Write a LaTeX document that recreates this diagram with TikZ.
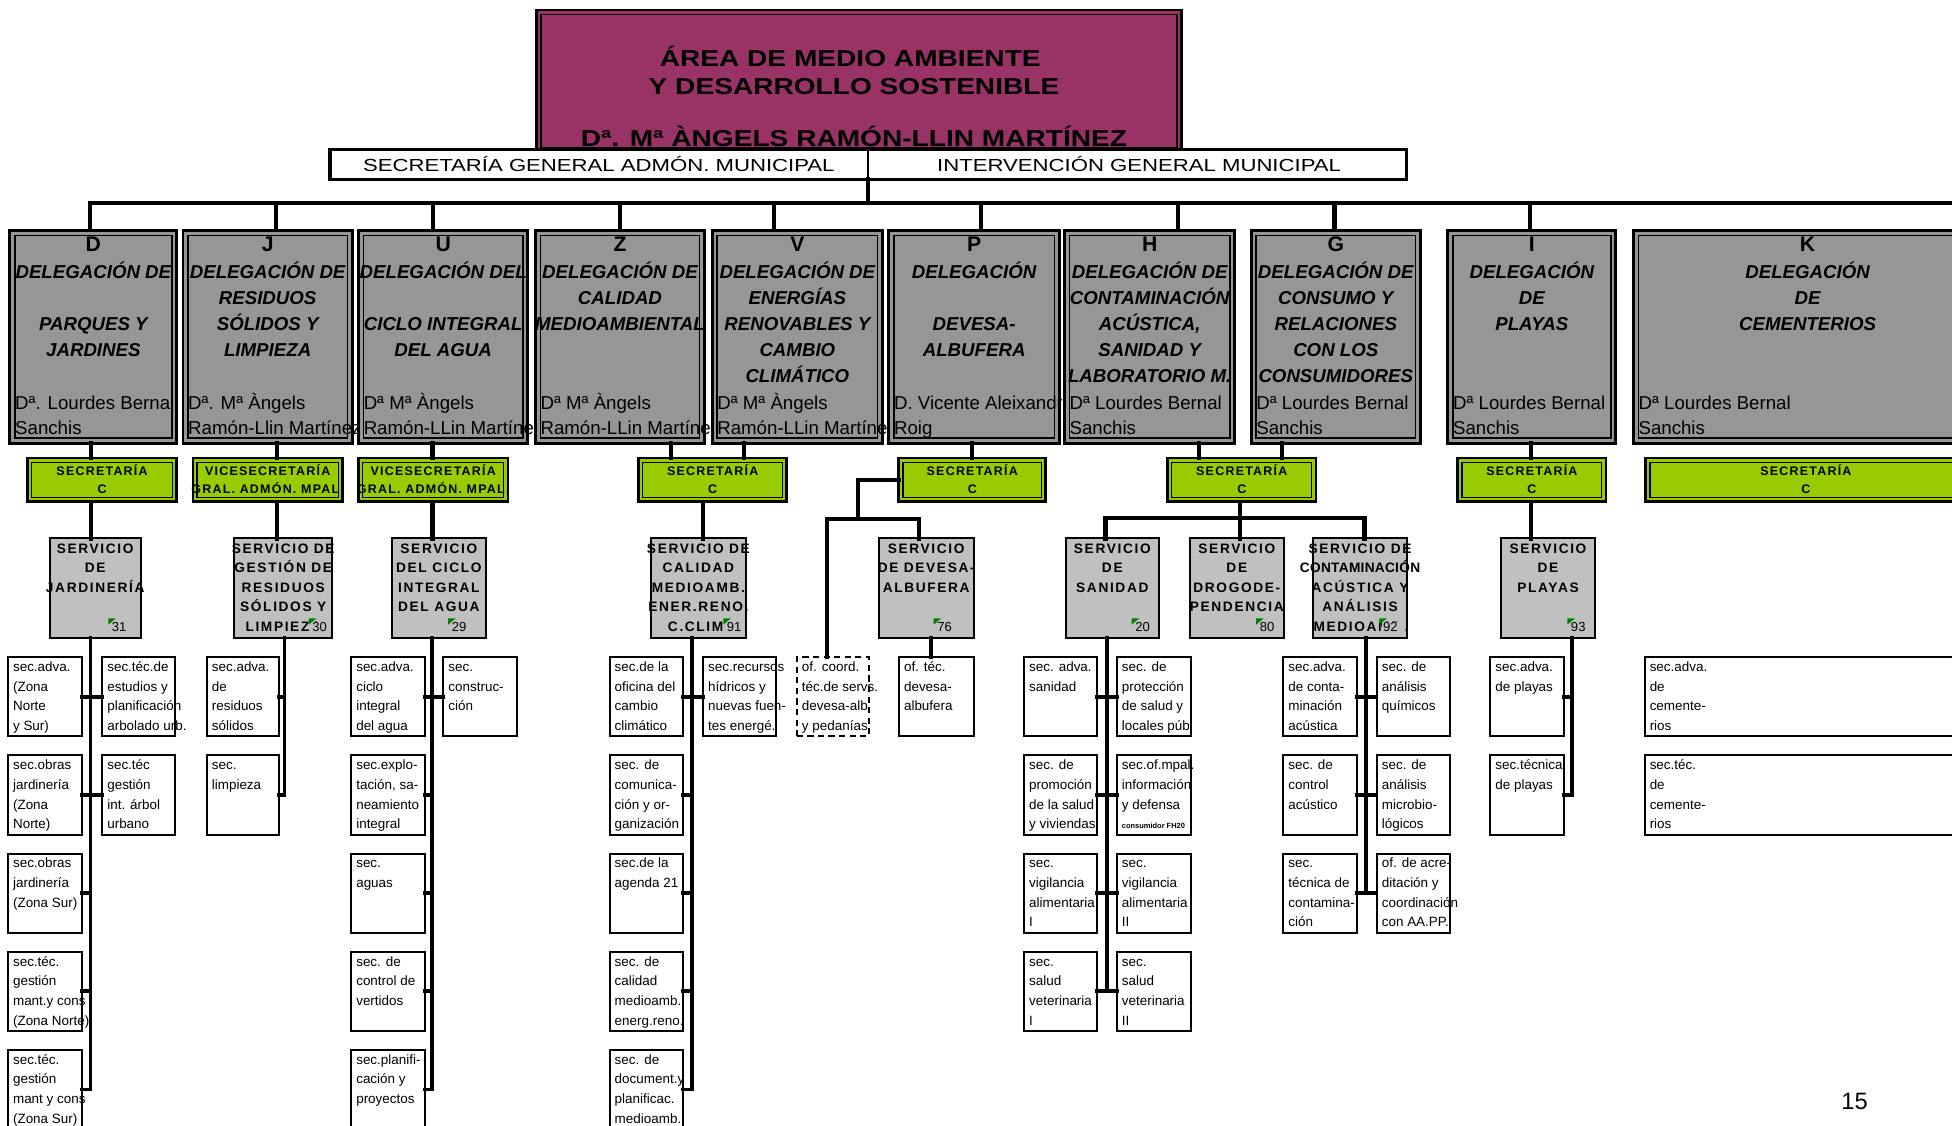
\documentclass[tikz,border=0pt]{standalone}
\usepackage{fontspec}
\setmainfont{Liberation Sans}
\newfontfamily\fTitle[FakeStretch=1.22]{Liberation Sans}
\newfontfamily\fSecG[FakeStretch=1.27]{Liberation Sans}
\newfontfamily\fSp[LetterSpace=12]{Liberation Sans}
\newfontfamily\fSpG[LetterSpace=10]{Liberation Sans}
\newfontfamily\fSpN[LetterSpace=2]{Liberation Sans}
\definecolor{magen}{HTML}{993366}
\definecolor{delgray}{HTML}{969696}
\definecolor{sergray}{HTML}{C0C0C0}
\definecolor{secgreen}{HTML}{99CC00}
\definecolor{tri}{HTML}{008000}
\tikzset{
  conn/.style={line width=3.4pt, line cap=rect},
  sconn/.style={line width=3pt, line cap=rect},
  basebox/.style={draw, anchor=north west, inner sep=0pt, outer sep=0pt},
  titlebox/.style={basebox, line width=2pt, fill=magen},
  secbox/.style={basebox, line width=2.8pt, fill=white},
  delbox/.style={basebox, line width=2.4pt, fill=delgray},
  greenbox/.style={basebox, line width=2.2pt, fill=secgreen},
  servbox/.style={basebox, line width=1.6pt, fill=sergray},
  botbox/.style={basebox, line width=1.6pt, fill=white},
  dashbox/.style={botbox, dash pattern=on 5pt off 3.5pt},
  fTitleS/.style={font=\fTitle\bfseries\fontsize{18.5}{20}\selectfont, anchor=base, inner sep=0pt},
  fSecS/.style={font=\fSecG\fontsize{14}{16}\selectfont, anchor=base, inner sep=0pt},
  fDel/.style={font=\fontsize{15}{18}\selectfont\bfseries\itshape},
  fLetter/.style={font=\fontsize{17}{20}\selectfont\bfseries, anchor=base, inner sep=0pt},
  fName/.style={font=\fontsize{15}{18}\selectfont},
  fServ/.style={font=\fSp\fontsize{11}{12}\selectfont\bfseries},
  fGreen/.style={font=\fSpG\fontsize{10}{11}\selectfont\bfseries},
  fBot/.style={font=\fontsize{10.8}{12}\selectfont},
  fNum/.style={font=\fontsize{10.5}{12}\selectfont},
}
% lines of text: [style]{prefix}{x}{first baseline}{step}{list}
\newcommand\tlines[6][]{%
  \foreach \lineT [count=\i] in {#6}{%
    \node[inner sep=0pt, anchor=base, #1] (#2-\i) at ({#3},{#4+(\i-1)*#5}) {\lineT};}}
% inner line of a double border
\newcommand\dbl[3]{\draw[line width=#3pt] ([shift={(#2pt,-#2pt)}]#1.north west) rectangle ([shift={(-#2pt,#2pt)}]#1.south east);}
% delegation box: name, x1, x2, cx, letter, titles, names
\newcommand\dele[7]{%
  \node[delbox, minimum width={#3-#2}, minimum height=171] (#1) at (#2,185) {};
  \dbl{#1}{4}{1.2}
  \node[fLetter] (#1-l) at (#4,202) {#5};
  \tlines[fDel]{#1-t}{#4}{223.5}{21}{#6}
  \tlines[fName, anchor=base west]{#1-n}{#2+4}{329}{20}{#7}}
% green box: name, x1, x2, cx, lines
\newcommand\grn[5]{%
  \node[greenbox, minimum width={#3-#2}, minimum height=35] (#1) at (#2,368) {};
  \dbl{#1}{3.3}{1}
  \tlines[fGreen]{#1-t}{#4}{381.8}{14.7}{#5}}
% service box: name, x1, x2, lines, number, number right edge
\newcommand\serv[6]{%
  \node[servbox, minimum width={#3-#2}, minimum height=80] (#1) at (#2,432.5) {};
  \tlines[fServ]{#1-t}{(#2+#3)/2}{444.5}{15.7}{#4}
  \node[fNum, anchor=base east, fill=sergray, inner ysep=0.6pt, inner xsep=1.2pt] (#1-num) at (#6,507.4) {#5};
  \fill[sergray] (#1-num.north east) rectangle ([xshift=-1.3pt]#1-num.south -| #1.east);
  \fill[tri] ([shift={(-1.5pt,2.5pt)}]#1-num.north west) -- ++(6pt,0pt) -- ++(-6pt,-5pt) -- cycle;}
% bottom box: [style]{name}{x1}{x2}{row}{lines}
\newcommand\botb[6][botbox]{%
  \pgfmathsetmacro\btop{528+78.85*(#5-1)}
  \node[#1, minimum width={#4-#3}, minimum height=63.5] (#2) at (#3,\btop) {};
  \pgfmathsetmacro\bbase{\btop+11.5}
  \tlines[fBot, anchor=base west]{#2-t}{#3+4}{\bbase}{15.8}{#6}}

\begin{document}
\begin{tikzpicture}[x=1pt,y=-1pt]
\useasboundingbox (0,0) rectangle (1568,903.7);

% ---------- title ----------
\node[titlebox, minimum width=518pt, minimum height=114pt] (T) at (431,8) {};
\dbl{T}{3.5}{1}
\node[fTitleS] (T1) at (683,53.5) {ÁREA DE MEDIO AMBIENTE};
\node[fTitleS] (T2) at (686,75.8) {Y DESARROLLO SOSTENIBLE};
\node[fTitleS] (T3) at (686,117.8) {Dª. Mª ÀNGELS RAMÓN-LLIN MARTÍNEZ};

\node[secbox, minimum width=865pt, minimum height=24pt] (S) at (265,120) {};
\coordinate (cM) at (697,163);
\draw[line width=1.6pt] (S.north -| cM) -- (S.south -| cM);
\node[fSecS] (S1) at (481,137.9) {SECRETARÍA GENERAL ADMÓN. MUNICIPAL};
\node[fSecS] (S2) at (915,137.9) {INTERVENCIÓN GENERAL MUNICIPAL};

% ---------- delegations ----------
\dele{Ddel}{8}{142}{75}{D}{DELEGACIÓN DE,{},PARQUES Y,JARDINES}{Dª. Lourdes Bernal,Sanchis}
\dele{Jdel}{147}{283}{215}{J}{DELEGACIÓN DE,RESIDUOS,SÓLIDOS Y,LIMPIEZA}{Dª. Mª Àngels,Ramón-Llin Martínez}
\dele{Udel}{288}{424}{356}{U}{DELEGACIÓN DEL,{},CICLO INTEGRAL,DEL AGUA}{Dª Mª Àngels,Ramón-LLin Martínez}
\dele{Zdel}{430}{566}{498}{Z}{DELEGACIÓN DE,CALIDAD,MEDIOAMBIENTAL}{Dª Mª Àngels,Ramón-LLin Martínez}
\dele{Vdel}{572}{709}{640.5}{V}{DELEGACIÓN DE,ENERGÍAS,RENOVABLES Y,CAMBIO,CLIMÁTICO}{Dª Mª Àngels,Ramón-LLin Martínez}
\dele{Pdel}{714}{851}{782.5}{P}{DELEGACIÓN,{},DEVESA-,ALBUFERA}{{},Roig}
\begin{scope}
\clip (714,185) rectangle (853,356);
\node[fName, anchor=base west, inner sep=0pt] (Pname) at (718,329) {D. Vicente Aleixandre};
\end{scope}
\dele{Hdel}{855}{992}{923.5}{H}{DELEGACIÓN DE,CONTAMINACIÓN,{ACÚSTICA,},SANIDAD Y,LABORATORIO M.}{Dª Lourdes Bernal,Sanchis}
\dele{Gdel}{1005}{1141}{1073}{G}{DELEGACIÓN DE,CONSUMO Y,RELACIONES,CON LOS,CONSUMIDORES}{Dª Lourdes Bernal,Sanchis}
\dele{Idel}{1163}{1298}{1230.5}{I}{DELEGACIÓN,DE,PLAYAS}{Dª Lourdes Bernal,Sanchis}
\dele{Kdel}{1312}{1592}{1452}{K}{DELEGACIÓN,DE,CEMENTERIOS}{Dª Lourdes Bernal,Sanchis}

% ---------- secretarías ----------
\grn{GD}{22}{142}{82}{SECRETARÍA,C}
\grn{GJ}{155}{275}{215}{VICESECRETARÍA,GRAL. ADMÓN. MPAL.}
\grn{GU}{288}{408}{348}{VICESECRETARÍA,GRAL. ADMÓN. MPAL.}
\grn{GZ}{513}{632}{572.5}{SECRETARÍA,C}
\grn{GP}{722}{840}{781}{SECRETARÍA,C}
\grn{GH}{938}{1057}{997.5}{SECRETARÍA,C}
\grn{GI}{1171}{1290}{1230.5}{SECRETARÍA,C}
\grn{GK}{1322}{1579}{1450.6}{SECRETARÍA,C}

% ---------- servicios ----------
\serv{SD}{40}{113}{SERVICIO,DE,JARDINERÍA}{31}{103}
\serv{SJ}{188}{267}{SERVICIO DE,GESTIÓN DE,RESIDUOS,SÓLIDOS Y,LIMPIEZA}{30}{264}
\serv{SU}{315}{390}{SERVICIO,DEL CICLO,INTEGRAL,DEL AGUA}{29}{376}
\serv{SZ}{523}{599}{SERVICIO DE,CALIDAD,MEDIOAMB.,ENER.RENO.,C.CLIM.}{91}{597}
\serv{SP}{706}{782}{SERVICIO,DE DEVESA-,ALBUFERA}{76}{766}
\serv{SH1}{856}{931}{SERVICIO,DE,SANIDAD}{20}{925}
\serv{SH2}{956}{1031}{SERVICIO,DE,DROGODE-,PENDENCIA}{80}{1025}
\serv{SH3}{1055}{1130}{SERVICIO DE,{\fSpN CONTAMINACIÓN},ACÚSTICA Y,ANÁLISIS,MEDIOAMB.}{92}{1124}
\serv{SI}{1206}{1281}{SERVICIO,DE,PLAYAS}{93}{1275}

% ---------- secciones ----------
\botb{bD1}{6.3}{66}{1}{sec.adva.,{(Zona},Norte,{y Sur)}}
\botb{bD2}{6.3}{66}{2}{sec.obras,jardinería,{(Zona},{Norte)}}
\botb{bD3}{6.3}{66}{3}{sec.obras,jardinería,{(Zona Sur)}}
\botb{bD4}{6.3}{66}{4}{sec.téc.,gestión,mant.y cons,{(Zona Norte)}}
\botb{bD5}{6.3}{66}{5}{sec.téc.,gestión,mant y cons,{(Zona Sur)}}
\botb{bD6}{82}{140.6}{1}{sec.téc.de,estudios y,planificación,arbolado urb.}
\botb{bD7}{82}{140.6}{2}{sec.téc,gestión,int. árbol,urbano}
\botb{bJ1}{166}{224}{1}{sec.adva.,de,residuos,sólidos}
\botb{bJ2}{166}{224}{2}{sec.,limpieza}
\botb{bU1}{282}{341}{1}{sec.adva.,ciclo,integral,del agua}
\botb{bU2}{282}{341}{2}{sec.explo-,{tación, sa-},neamiento,integral}
\botb{bU3}{282}{341}{3}{sec.,aguas}
\botb{bU4}{282}{341}{4}{sec. de,control de,vertidos}
\botb{bU5}{282}{341}{5}{sec.planifi-,cación y,proyectos}
\botb{bU6}{356}{415}{1}{sec.,construc-,ción}
\botb{bZ1}{489.6}{548.6}{1}{sec.de la,oficina del,cambio,climático}
\botb{bZ2}{489.6}{548.6}{2}{sec. de,comunica-,ción y or-,ganización}
\botb{bZ3}{489.6}{548.6}{3}{sec.de la,agenda 21}
\botb{bZ4}{489.6}{548.6}{4}{sec. de,calidad,medioamb.,energ.reno.}
\botb{bZ5}{489.6}{548.6}{5}{sec. de,document.y,planificac.,medioamb.}
\botb{bZ6}{564.7}{623.6}{1}{sec.recursos,hídricos y,nuevas fuen-,tes energé.}
\botb[dashbox]{DashB}{640}{698}{1}{of. coord.,téc.de servs.,devesa-alb.,y pedanías}
\botb{OT}{722}{782}{1}{of. téc.,devesa-,albufera}
\botb{bH1}{822.5}{881}{1}{sec. adva.,sanidad}
\botb{bH2}{822.5}{881}{2}{sec. de,promoción,de la salud,y viviendas}
\botb{bH3}{822.5}{881}{3}{sec.,vigilancia,alimentaria,I}
\botb{bH4}{822.5}{881}{4}{sec.,salud,veterinaria,I}
\botb{bH5}{897}{957}{1}{sec. de,protección,de salud y,locales púb}
\botb{bH6}{897}{957}{2}{sec.of.mpal.,información,y defensa,{\fontsize{6}{7}\selectfont\bfseries consumidor FH20}}
\botb{bH7}{897}{957}{3}{sec.,vigilancia,alimentaria,II}
\botb{bH8}{897}{957}{4}{sec.,salud,veterinaria,II}
\botb{bG1}{1030.7}{1089.7}{1}{sec.adva.,de conta-,minación,acústica}
\botb{bG2}{1030.7}{1089.7}{2}{sec. de,control,acústico}
\botb{bG3}{1030.7}{1089.7}{3}{sec.,técnica de,contamina-,ción}
\botb{bG4}{1105.8}{1165}{1}{sec. de,análisis,químicos}
\botb{bG5}{1105.8}{1165}{2}{sec. de,análisis,microbio-,lógicos}
\botb{bG6}{1105.8}{1165}{3}{of. de acre-,ditación y,coordinación,con AA.PP.}
\botb{bI1}{1197}{1256}{1}{sec.adva.,de playas}
\botb{bI2}{1197}{1256}{2}{sec.técnica,de playas}
\botb{bK1}{1321}{1600}{1}{sec.adva.,de,cemente-,rios}
\botb{bK2}{1321}{1600}{2}{sec.téc.,de,cemente-,rios}

% ---------- connectors: top ----------
\coordinate (bR) at (1575,163);
\coordinate (dD) at (72,163);   \coordinate (dJ) at (222,163);
\coordinate (dU) at (348,163);  \coordinate (dZ) at (498,163);
\coordinate (dV) at (622,163);  \coordinate (dP) at (788,163);
\coordinate (dH) at (946,163);  \coordinate (dG) at (1072,163);
\coordinate (dI) at (1229,163);
\draw[conn] (S.south -| cM) -- (cM);
\draw[conn] (dD |- Ddel.north) -- (dD) -- (bR);
\foreach \c/\n in {dJ/Jdel,dU/Udel,dZ/Zdel,dV/Vdel,dP/Pdel,dH/Hdel,dG/Gdel,dI/Idel}
  \draw[conn] (\c) -- (\c |- \n.north);

% ---------- delegation -> secretaría -> servicio ----------
\coordinate (xD) at (72.8,0);  \coordinate (xJ) at (222.8,0);
\coordinate (xU) at (347.5,0); \coordinate (xZ) at (538.7,0);
\coordinate (xV) at (597.6,0); \coordinate (xP) at (780.5,0);
\coordinate (xH) at (963,0);   \coordinate (xG) at (1030,0);
\coordinate (xI) at (1229.8,0); \coordinate (xZV) at (564.7,0);
\coordinate (xPo) at (748,0);
\foreach \a/\b/\x in {Ddel/GD/xD,Jdel/GJ/xJ,Udel/GU/xU,Zdel/GZ/xZ,Vdel/GZ/xV,Pdel/GP/xP,Hdel/GH/xH,Gdel/GH/xG,Idel/GI/xI,GD/SD/xD,GJ/SJ/xJ,GU/SU/xU,GZ/SZ/xZV,GI/SI/xI}
  \draw[conn] (\a.south -| \x) -- (\b.north -| \x);
% Devesa-Albufera branch
\coordinate (pj) at (689,417); \coordinate (pL) at (664,417); \coordinate (pR) at (738,417);
\draw[conn] (GP.west) -| (pj);
\draw[conn] (DashB.north -| pL) -- (pL) -- (pR) -- (SP.north -| pR);
\draw[sconn] (SP.south -| xPo) -- (OT.north -| xPo);
% Sanidad / consumo branch
\coordinate (hL) at (888,416); \coordinate (hR) at (1096,416); \coordinate (hM) at (996,416);
\draw[conn] (GH.south -| hM) -- (SH2.north -| hM);
\draw[conn] (SH1.north -| hL) -- (hL) -- (hR) -- (SH3.north -| hR);

% ---------- spines ----------
\coordinate (spD) at (72.6,0);  \coordinate (spJ) at (228.6,0);
\coordinate (spU) at (347,0);   \coordinate (spZ) at (555.7,0);
\coordinate (spH) at (889,0);   \coordinate (spG) at (1097,0);
\coordinate (spI) at (1263,0);
\draw[sconn] (SD.south -| spD) -- (bD5.east -| spD);
\draw[sconn] (SJ.south -| spJ) -- (bJ2.east -| spJ);
\draw[sconn] (SU.south -| spU) -- (bU5.east -| spU);
\draw[sconn] (SZ.south -| spZ) -- (bZ5.east -| spZ);
\draw[sconn] (SH1.south -| spH) -- (bH4.east -| spH);
\draw[sconn] (SH3.south -| spG) -- (bG3.east -| spG);
\draw[sconn] (SI.south -| spI) -- (bI2.east -| spI);
\foreach \b/\s in {bD1/spD,bD2/spD,bD3/spD,bD4/spD,bD5/spD,bJ1/spJ,bJ2/spJ,bU1/spU,bU2/spU,bU3/spU,bU4/spU,bU5/spU,bZ1/spZ,bZ2/spZ,bZ3/spZ,bZ4/spZ,bZ5/spZ,bH1/spH,bH2/spH,bH3/spH,bH4/spH,bG1/spG,bG2/spG,bG3/spG,bI1/spI,bI2/spI}
  \draw[sconn] (\b.east) -- (\b.east -| \s);
\foreach \b/\s in {bD6/spD,bD7/spD,bU6/spU,bZ6/spZ,bH5/spH,bH6/spH,bH7/spH,bH8/spH,bG4/spG,bG5/spG,bG6/spG}
  \draw[sconn] (\s |- \b.west) -- (\b.west);

% page number
\node[font=\fontsize{19}{22}\selectfont, anchor=base west, inner sep=0pt] (pg) at (1479,891.6) {15};
\end{tikzpicture}
\end{document}
